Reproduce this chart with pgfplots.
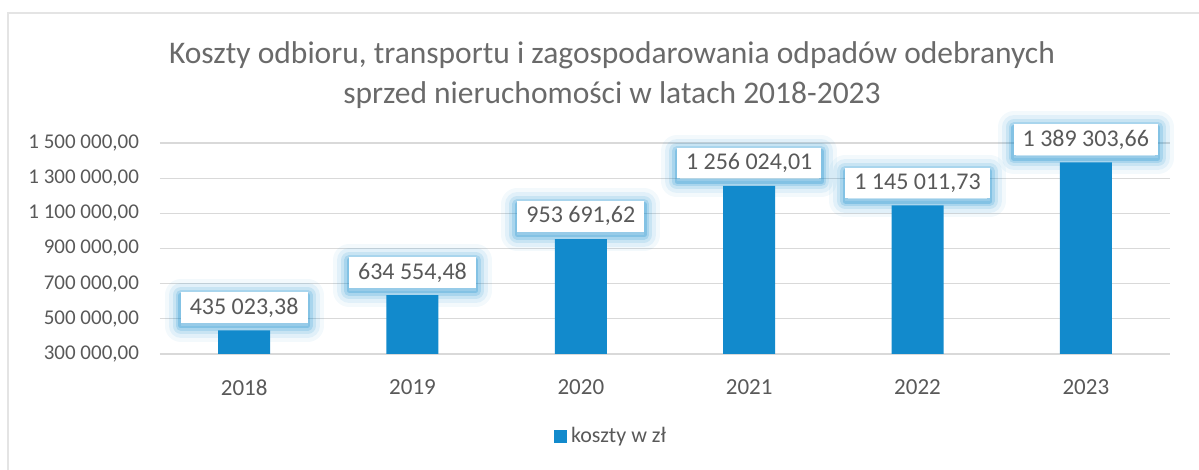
\documentclass[border=0pt]{standalone}
\usepackage{fontspec}
\setmainfont{Carlito}
\usepackage{pgfplots}
\usepackage{pgfplotstable}
\pgfplotsset{compat=1.18}

\definecolor{barblue}{RGB}{18,138,204}
\definecolor{txtgray}{RGB}{89,89,89}
\definecolor{gridgray}{RGB}{217,217,217}

% costs per year, label as printed
\pgfplotstableread[col sep=semicolon]{
x;y;lab
0;435023.38;435 023,38
1;634554.48;634 554,48
2;953691.62;953 691,62
3;1256024.01;1 256 024,01
4;1145011.73;1 145 011,73
5;1389303.66;1 389 303,66
}\koszty

\begin{document}
\begin{tikzpicture}
% page = 1199x470 px at 0.5pt/px, plot area lower left at (160,354) px
\path[use as bounding box] (-80pt,-58pt) rectangle (519.5pt,177pt);
\draw[gridgray!70!white, line width=0.6pt] (-76pt,-58pt) -- (-76pt,170.5pt) -- (519.5pt,170.5pt);

\begin{axis}[
  at={(0pt,0pt)}, anchor=south west,
  scale only axis,
  width=505pt, height=105.5pt,
  xmin=-0.5, xmax=5.5,
  ymin=300000, ymax=1500000,
  scaled y ticks=false,
  axis line style={draw=none},
  major tick length=0pt,
  xtick=data,
  xticklabels={2018,2019,2020,2021,2022,2023},
  ytick={300000,500000,700000,900000,1100000,1300000,1500000},
  yticklabels={{300 000,00},{500 000,00},{700 000,00},{900 000,00},{1 100 000,00},{1 300 000,00},{1 500 000,00}},
  ymajorgrids, grid style={gridgray, line width=0.6pt},
  tick label style={font=\fontsize{10.5pt}{12pt}\selectfont, text=txtgray},
  xticklabel style={yshift=-9.5pt, font=\fontsize{11.5pt}{13pt}\selectfont},
  yticklabel style={xshift=-7pt},
  /pgf/number format/assume math mode=true,
  legend style={at={(0.4475,-0.39)}, anchor=center, draw=none, fill=none,
    font=\fontsize{11pt}{12pt}\selectfont, text=txtgray},
  legend image code/.code={\fill[barblue] (0pt,-3.3pt) rectangle (6.6pt,3.3pt);},
]
\addplot[
  ybar, bar width=26pt, fill=barblue, draw=none,
  point meta=explicit symbolic,
  nodes near coords,
  every node near coord/.append style={
    font=\fontsize{12pt}{13pt}\selectfont, text=txtgray,
    fill=white, inner xsep=4.5pt, inner ysep=2.8pt, yshift=3.5pt,
    preaction={draw=barblue, line width=16pt, opacity=0.05, line join=round, transform canvas={yshift=-1.5pt}},
    preaction={draw=barblue, line width=12pt, opacity=0.08, line join=round, transform canvas={yshift=-1.5pt}},
    preaction={draw=barblue, line width=8pt, opacity=0.12, line join=round, transform canvas={yshift=-1.5pt}},
    preaction={draw=barblue, line width=5pt, opacity=0.17, line join=round, transform canvas={yshift=-1.5pt}},
    preaction={draw=barblue, line width=2.5pt, opacity=0.25, line join=round, transform canvas={yshift=-1.5pt}},
  },
] table[x=x, y=y, meta=lab] {\koszty};
\addlegendentry{koszty w zł}
\end{axis}

\node[align=center, text=txtgray!90!white, font=\fontsize{15.75pt}{20pt}\selectfont]
  at (226pt,139.5pt)
  {Koszty odbioru, transportu i zagospodarowania odpadów odebranych\\
   sprzed nieruchomości w latach 2018-2023};
\end{tikzpicture}
\end{document}
